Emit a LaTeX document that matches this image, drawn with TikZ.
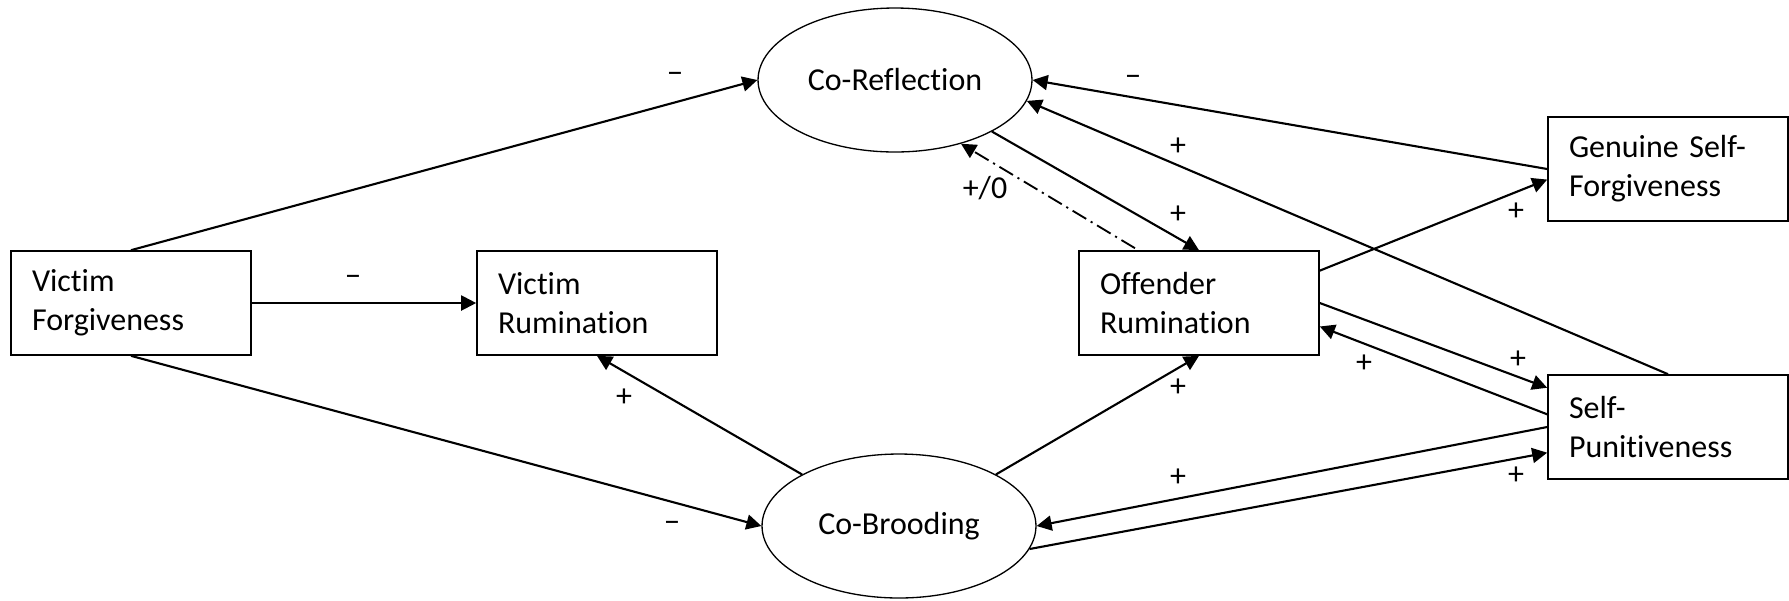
\documentclass[tikz,border=0pt]{standalone}
\usepackage{fontspec}
\setmainfont{Carlito}[Ligatures={TeX,NoCommon}]
\usetikzlibrary{arrows.meta, calc, shapes.geometric}

\begin{document}
\begin{tikzpicture}[x=0.02cm, y=-0.02cm,
  font=\fontsize{18.2}{22.2}\selectfont,
  box/.style={draw, line width=0.95pt, rectangle, minimum width=4.8cm, minimum height=2.08cm,
    text width=3.96cm, inner xsep=0.42cm, inner ysep=0pt, align=left},
  oval/.style={draw, line width=0.75pt, ellipse, minimum width=5.48cm, minimum height=2.88cm, inner sep=0pt},
  link/.style={line width=1.2pt, -{Triangle[length=0.3cm, width=0.3cm]}},
  sign/.style={inner sep=0pt}]
  \useasboundingbox (0,0) rectangle (1789,600);

  % Constructs
  \node[box] (vf) at (131,303) {Victim\\Forgiveness};
  \node[box] (vr) at (597,303) {Victim\\Rumination};
  \node[box] (or) at (1199,303) {Offender\\Rumination};
  \node[box] (gsf) at (1668,169) {Genuine Self-\\Forgiveness};
  \node[box] (sp) at (1668,427) {Self-\\Punitiveness};
  \node[oval] (cr) at (895,80) {Co-Reflection};
  \node[oval] (cb) at (899,526) {Co-Brooding};

  % Victim side
  \draw[link] (vf.north) -- (cr.west);
  \draw[link] (vf.east) -- (vr.west);
  \draw[link] (vf.south) -- (cb.west);
  \draw[link] (cb.152) -- (vr.south);
  \node[sign] (s1) at (675,78) {−};
  \node[sign] (s2) at (353,281) {−};
  \node[sign] (s3) at (672,527) {−};
  \node[sign] (s4) at (624,398) {+};

  % Offender side
  \draw[link] (cr.-28) -- (or.north);
  \draw[link, line width=1.05pt, dash pattern=on 9pt off 3pt on 1.2pt off 3pt] ($(or.north)+(-64,-2)$) -- (cr.-44);
  \draw[link] (gsf.west) -- (cr.east);
  \draw[link] (sp.north) -- (cr.-9);
  \draw[link] (or.15) -- (gsf.185);
  \draw[link] (or.east) -- (sp.162);
  \draw[link] (sp.174) -- (or.-11);
  \draw[link] (cb.28) -- (or.south);
  \draw[link] (sp.west) -- (cb.east);
  \draw[link] (cb.-10) -- (sp.192);
  \node[sign] (s5) at (1178,215) {+};
  \node[sign] (s6) at (985,188) {+/0};
  \node[sign] (s7) at (1133,81) {−};
  \node[sign] (s8) at (1178,147) {+};
  \node[sign] (s9) at (1516,212) {+};
  \node[sign] (s10) at (1518,360) {+};
  \node[sign] (s11) at (1364,364) {+};
  \node[sign] (s12) at (1178,388) {+};
  \node[sign] (s13) at (1178,478) {+};
  \node[sign] (s14) at (1516,476) {+};
\end{tikzpicture}
\end{document}
